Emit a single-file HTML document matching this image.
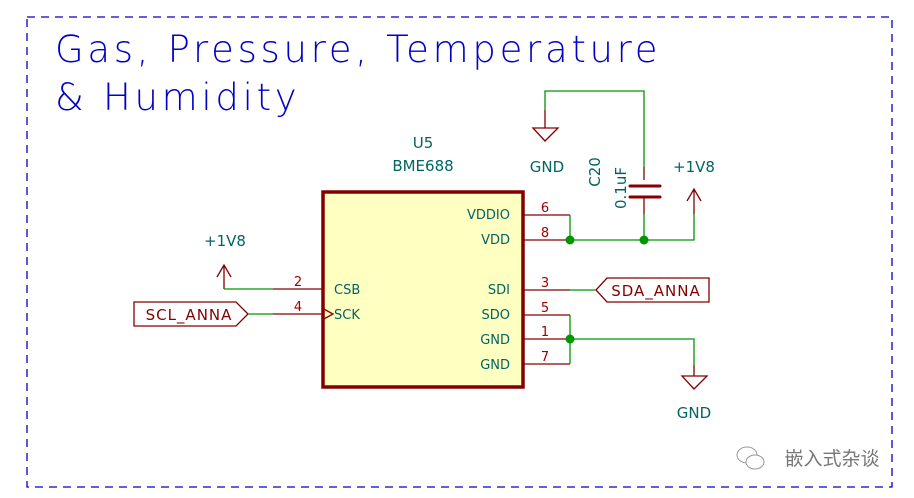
<!DOCTYPE html>
<html><head><meta charset="utf-8"><style>
html,body{margin:0;padding:0;background:#fff;width:914px;height:498px;overflow:hidden}
text{font-family:"DejaVu Sans","Liberation Sans",sans-serif}
</style></head><body>
<svg width="914" height="498" viewBox="0 0 914 498" xmlns="http://www.w3.org/2000/svg">
<rect x="27" y="17" width="865" height="470" fill="none" stroke="#0000c8" stroke-width="1.3" stroke-dasharray="8,6"/>
<text x="55" y="62" font-size="37" fill="#0000c8" font-weight="200" letter-spacing="3.7">Gas, Pressure, Temperature</text>
<text x="55" y="110" font-size="37" fill="#0000c8" font-weight="200" letter-spacing="3.7">&amp; Humidity</text>
<g fill="#006464" font-size="15" text-anchor="middle">
<text x="423" y="148">U5</text>
<text x="423" y="171">BME688</text>
<text x="547" y="172">GND</text>
<text x="694" y="172">+1V8</text>
<text x="225" y="246">+1V8</text>
<text x="694" y="418">GND</text>
<text transform="translate(600,172) rotate(-90)" >C20</text>
<text transform="translate(626,188) rotate(-90)" >0.1uF</text>
</g>
<rect x="323" y="192" width="200" height="195" fill="#ffffc2" stroke="#840000" stroke-width="3.5"/>
<g fill="#006464" font-size="13">
<text x="334" y="294">CSB</text><text x="334" y="319">SCK</text>
<g text-anchor="end"><text x="510" y="219">VDDIO</text><text x="510" y="244">VDD</text><text x="510" y="294">SDI</text><text x="510" y="319">SDO</text><text x="510" y="344">GND</text><text x="510" y="369">GND</text></g>
</g>
<g fill="#a00000" font-size="13" text-anchor="middle">
<text x="545" y="212">6</text><text x="545" y="237">8</text><text x="545" y="287">3</text><text x="545" y="312">5</text><text x="545" y="336">1</text><text x="545" y="361">7</text>
<text x="298" y="286">2</text><text x="298" y="311">4</text>
</g>
<g stroke="#840000" stroke-width="1.3" fill="none">
<path d="M524 215H570M524 240H570M524 290H570M524 315H570M524 339H570M524 364H570M273 289H322M273 314H322"/>
<path d="M322 308L333 314L322 320"/>
<path d="M545 110V128M533 128H558L545 141Z"/>
<path d="M694 214V189M687 201L694 189L701 201"/>
<path d="M224 289V265M217 277L224 265L231 277"/>
<path d="M694 365V376M682 376H707L694 389Z"/>
<path d="M644 167V180M644 198V214"/>
<path d="M134 302H236L248 314L236 326H134Z"/>
<path d="M709 278H607L596 290L607 302H709Z"/>
</g>
<g fill="#840000" font-size="15" text-anchor="middle" letter-spacing="1">
<text x="189" y="320">SCL_ANNA</text>
<text x="656" y="296">SDA_ANNA</text>
</g>
<path d="M630 186H660M630 197H660" stroke="#840000" stroke-width="3" stroke-linecap="round"/>
<g stroke="#009600" stroke-width="1.3" fill="none">
<path d="M545 110V91H644V167M644 214V240M570 215V240H694V214"/>
<path d="M224 289H273M248 314H273M570 290H596"/>
<path d="M570 315V364M570 339H694V365"/>
</g>
<g fill="#009600"><circle cx="570" cy="240" r="4.5"/><circle cx="644" cy="240" r="4.5"/><circle cx="570" cy="339" r="4.5"/></g>
<g fill="#fff" stroke="#999" stroke-width="1"><ellipse cx="747" cy="455" rx="10" ry="8"/><ellipse cx="755" cy="462" rx="9" ry="7"/></g>
<text x="832" y="465" font-size="19" fill="#777" text-anchor="middle" style="font-family:'Noto Sans CJK SC',sans-serif">嵌入式杂谈</text>
</svg>
</body></html>
